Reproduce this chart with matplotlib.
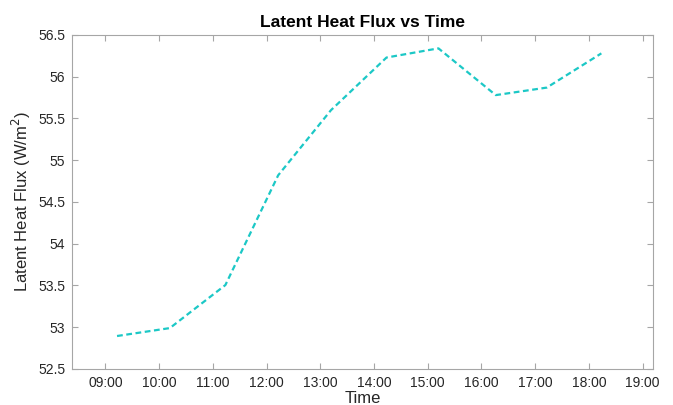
import pandas as pd
import matplotlib
matplotlib.use("Agg")
import matplotlib.pyplot as plt  # type: ignore
import matplotlib.dates as mdates  # type: ignore

# readings taken roughly every hour
times = ["09:13", "10:12", "11:14", "12:13", "13:12",
         "14:14", "15:12", "16:16", "17:13", "18:14"]
flux = [52.895, 52.99, 53.505, 54.82, 55.6,
        56.23, 56.34, 55.78, 55.87, 56.28]
xlim = ["08:23", "19:12"]
yticks = [52.5, 53, 53.5, 54, 54.5, 55, 55.5, 56, 56.5]
ytick_labels = ["52.5", "53", "53.5", "54", "54.5", "55", "55.5", "56", "56.5"]

day = "2020-01-01 "
t = pd.to_datetime([day + s for s in times])
lims = pd.to_datetime([day + s for s in xlim])

plt.rcParams["font.family"] = ["Liberation Sans", "DejaVu Sans"]
axis_grey = "#a6a6a6"
text_grey = "#262626"

fig = plt.figure(figsize=(6.73, 4.05), dpi=100)
ax = fig.add_axes([0.1074, 0.0889, 0.8633, 0.8247])

ax.plot(t, flux, ls=(0, (2.6, 1.6)), lw=1.6, color="#1cc8c6")

ax.set_xlim(lims[0], lims[1])
ax.set_ylim(52.5, 56.5)
ax.xaxis.set_major_locator(mdates.HourLocator())
ax.xaxis.set_major_formatter(mdates.DateFormatter("%H:%M"))
ax.set_yticks(yticks)
ax.set_yticklabels(ytick_labels)

ax.tick_params(direction="in", length=4, width=0.8, color=axis_grey,
               labelsize=10, labelcolor=text_grey, top=True, right=True,
               pad=5)
for sp in ax.spines.values():
    sp.set_color(axis_grey)
    sp.set_linewidth(0.8)

ax.set_title("Latent Heat Flux vs Time", fontsize=12.5, fontweight="bold",
             color="black", pad=6)
ax.set_xlabel("Time", fontsize=12, color=text_grey, labelpad=1)
ax.set_ylabel("Latent Heat Flux (W/m$^2$)", fontsize=12, color=text_grey,
              labelpad=4)

fig.savefig("out.png", dpi=100)
